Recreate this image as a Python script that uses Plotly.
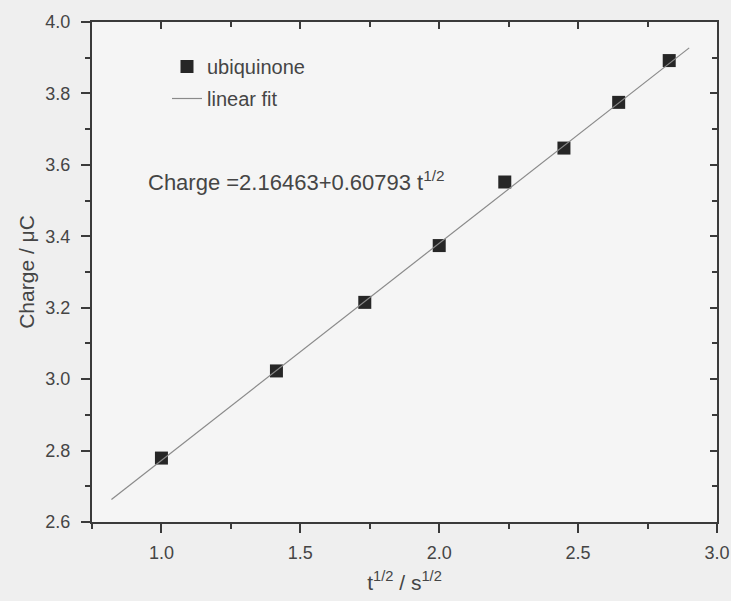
import plotly.graph_objects as go

# data
sqrt_t = [1.0, 1.414, 1.732, 2.0, 2.236, 2.449, 2.646, 2.828]
charge = [2.779, 3.023, 3.215, 3.374, 3.552, 3.647, 3.775, 3.892]
fit_intercept = 2.16463
fit_slope = 0.60793
fit_x = [0.82, 2.90]
fit_y = [fit_intercept + fit_slope * v for v in fit_x]
x_ticks = [1.0, 1.5, 2.0, 2.5, 3.0]
y_ticks = [2.6, 2.8, 3.0, 3.2, 3.4, 3.6, 3.8, 4.0]

FONT = "Liberation Sans, Arial, sans-serif"
TXT = "#454545"
AX = "#3a3a3a"

fig = go.Figure()
fig.add_trace(go.Scatter(
    x=sqrt_t, y=charge, mode="markers", name="ubiquinone",
    legendgroup="a",
    marker=dict(symbol="square", size=13, color="#262626",
                line=dict(width=0)),
))
fig.add_trace(go.Scatter(
    x=fit_x, y=fit_y, mode="lines", name="linear fit",
    legendgroup="b",
    line=dict(color="#8a8a8a", width=1.2),
))
# invisible trace to carry top/right axes
fig.add_trace(go.Scatter(x=[None], y=[None], xaxis="x2", yaxis="y2",
                         showlegend=False, hoverinfo="skip"))

fig.add_annotation(
    x=0.945, y=3.555, xref="x", yref="y", xanchor="left", yanchor="middle",
    text="Charge =2.16463+0.60793 t<sup>1/2</sup>", showarrow=False,
    font=dict(family=FONT, size=22, color=TXT),
)

axis_common = dict(
    showgrid=False, zeroline=False, showline=True, linecolor=AX, linewidth=2,
    tickcolor=AX, tickwidth=1.5, automargin=False,
    tickfont=dict(family=FONT, size=18, color=TXT),
)

fig.update_layout(
    width=731, height=601,
    margin=dict(l=92, r=14, t=22, b=79, autoexpand=False),
    paper_bgcolor="#efefef", plot_bgcolor="#f5f5f5",
    font=dict(family=FONT, color=TXT),
    showlegend=True,
    legend=dict(x=0.120, y=0.950, xanchor="left", yanchor="top",
                bgcolor="rgba(0,0,0,0)", font=dict(family=FONT, size=20, color=TXT),
                tracegroupgap=3, itemwidth=30),
    xaxis=dict(
        range=[0.75, 3.0], tickvals=x_ticks, ticktext=["1.0", "1.5", "2.0", "2.5", "3.0"],
        ticks="outside", ticklen=9, ticklabelstandoff=4,
        minor=dict(dtick=0.25, tick0=0.75, ticks="outside", ticklen=5, tickcolor=AX, tickwidth=1.5),
        title=dict(text="t<sup>1/2</sup> / s<sup>1/2</sup>", standoff=14,
                   font=dict(family=FONT, size=21, color=TXT)),
        **axis_common,
    ),
    yaxis=dict(
        range=[2.6, 4.0], tickvals=y_ticks, ticktext=[f"{v:.1f}" for v in y_ticks],
        ticks="outside", ticklen=9, ticklabelstandoff=7,
        minor=dict(dtick=0.1, tick0=2.6, ticks="outside", ticklen=5, tickcolor=AX, tickwidth=1.5),
        title=dict(text="Charge / μC", standoff=5,
                   font=dict(family=FONT, size=21, color=TXT)),
        **axis_common,
    ),
    xaxis2=dict(
        overlaying="x", side="top", range=[0.75, 3.0], tickvals=x_ticks,
        showticklabels=False, ticks="inside", ticklen=7,
        minor=dict(dtick=0.25, tick0=0.75, ticks="inside", ticklen=5, tickcolor=AX, tickwidth=1.5),
        **axis_common,
    ),
    yaxis2=dict(
        overlaying="y", side="right", range=[2.6, 4.0], tickvals=y_ticks,
        showticklabels=False, ticks="inside", ticklen=7,
        minor=dict(dtick=0.1, tick0=2.6, ticks="inside", ticklen=5, tickcolor=AX, tickwidth=1.5),
        **axis_common,
    ),
)

fig.write_html(
    "out.html",
    config={"displayModeBar": False},
    post_script="document.body.style.margin='0';document.body.style.background='#efefef';",
)
